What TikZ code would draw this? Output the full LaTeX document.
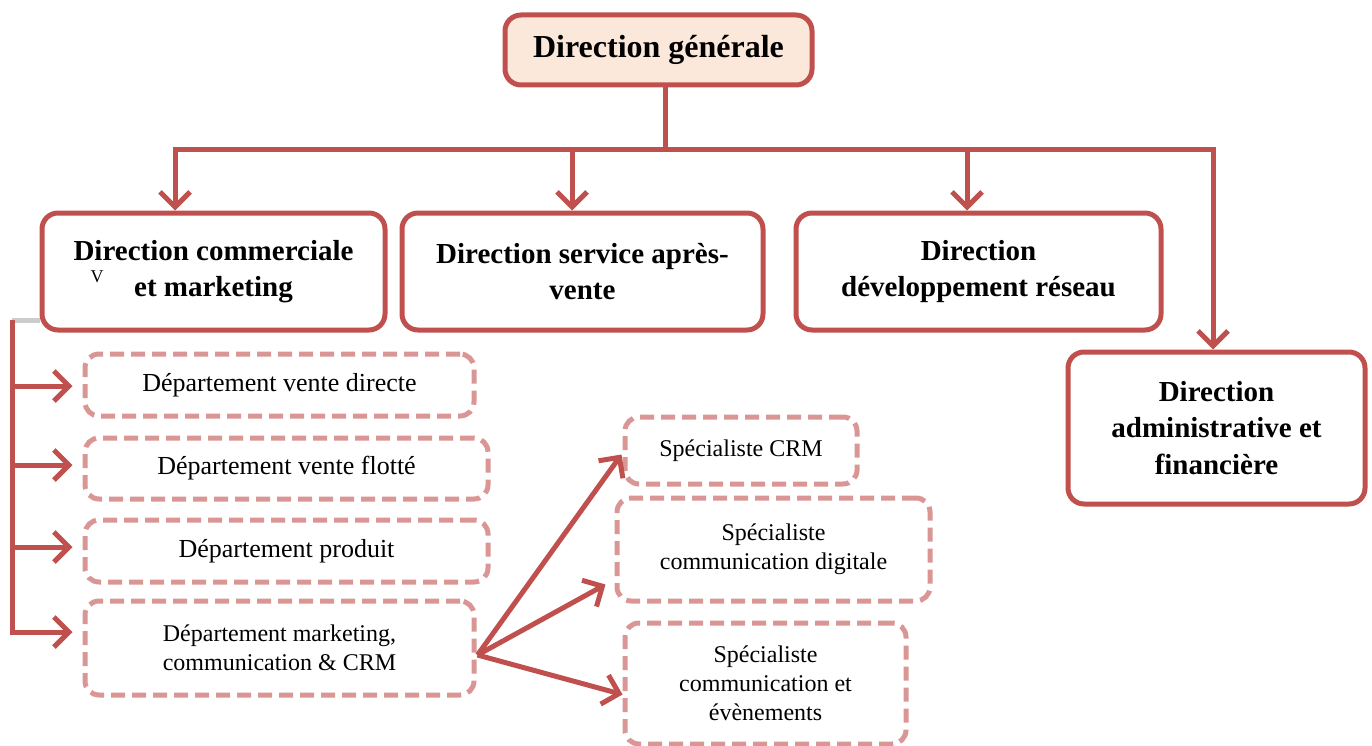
\documentclass[tikz,border=0pt]{standalone}
\usepackage{fontspec}
\setmainfont{Liberation Serif}
\usetikzlibrary{arrows.meta,calc}
\definecolor{orgred}{HTML}{C0504D}
\definecolor{dashred}{HTML}{D99694}
\definecolor{peach}{HTML}{FCE8DA}
\begin{document}
\begin{tikzpicture}[x=1pt,y=-1pt,
  solidbox/.style={draw=orgred, line width=5pt, rounded corners=16pt, fill=white,
    align=center, inner sep=0pt, font=\bfseries\fontsize{29}{36.5}\selectfont},
  dashbox/.style={draw=dashred, line width=5pt, dash pattern=on 14pt off 7pt,
    rounded corners=14pt, fill=white, align=center, inner sep=0pt},
  bigtext/.style={font=\fontsize{26}{30}\selectfont},
  smalltext/.style={font=\fontsize{24}{29}\selectfont},
  link/.style={draw=orgred, line width=5pt},
  tip/.style={-{Straight Barb[length=15pt,width=30pt]}}
]
\useasboundingbox (0,0) rectangle (1372,746);

% top level
\node[solidbox, fill=peach, minimum width=307pt, minimum height=70pt,
      font=\bfseries\fontsize{32}{36}\selectfont] (DG) at (658.5,50) {Direction générale};

% directions
\node[solidbox, minimum width=343pt, minimum height=117pt] (DCM) at (213.5,271.5)
  {Direction commerciale\\et marketing};
\node[font=\fontsize{18}{18}\selectfont, inner sep=0pt] (vmark) at (97,277) {V};
\node[solidbox, minimum width=361pt, minimum height=117pt] (DSAV) at (582.5,271.5)
  {Direction service après-\\vente};
\node[solidbox, minimum width=365pt, minimum height=117pt] (DDR) at (978.5,271.5)
  {Direction\\développement réseau};
\node[solidbox, minimum width=297pt, minimum height=152pt] (DAF) at (1216.5,428)
  {Direction\\administrative et\\financière};

% departments
\node[dashbox, bigtext, minimum width=389pt, minimum height=62pt] (Dvd) at (279.5,385)
  {Département vente directe};
\node[dashbox, bigtext, minimum width=403pt, minimum height=61pt] (Dvf) at (286.5,468.5)
  {Département vente flotté};
\node[dashbox, bigtext, minimum width=403pt, minimum height=62pt] (Dp) at (286.5,551)
  {Département produit};
\node[dashbox, smalltext, minimum width=389pt, minimum height=94pt] (Dmc) at (279.5,648)
  {Département marketing,\\communication \& CRM};

% specialists
\node[dashbox, smalltext, minimum width=232pt, minimum height=67pt] (SCRM) at (741,450.5)
  {Spécialiste CRM};
\node[dashbox, smalltext, minimum width=313pt, minimum height=103pt] (SCD) at (773.5,549.5)
  {Spécialiste\\communication digitale};
\node[dashbox, smalltext, minimum width=281pt, minimum height=121pt] (SCE) at (765.5,683.5)
  {Spécialiste\\communication et\\évènements};

% connectors from the general direction
\coordinate (hub) at (665,150);
\coordinate (busL) at (175,150);
\coordinate (busR) at (1213,150);
\coordinate (busM1) at (572,150);
\coordinate (busM2) at (967,150);
\draw[link] (hub |- DG.south) -- (hub);
\draw[link, {Straight Barb[length=15pt,width=30pt]}-{Straight Barb[length=15pt,width=30pt]}]
  (busL |- DCM.north) -- (busL) -- (busR) -- (busR |- DAF.north);
\draw[link, tip] (busM1) -- (busM1 |- DSAV.north);
\draw[link, tip] (busM2) -- (busM2 |- DDR.north);

% commercial direction to its departments
\coordinate (spine) at (12,320);
\coordinate (a1) at ($(Dvd.west)+(-10,1)$);
\coordinate (a2) at ($(Dvf.west)+(-10,-3.5)$);
\coordinate (a3) at ($(Dp.west)+(-10,-4)$);
\coordinate (a4) at ($(Dmc.west)+(-10,-16)$);
\draw[gray!40, line width=5pt] (spine) -- (spine -| DCM.west);
\draw[link, tip] (spine) |- (a4);
\draw[link, tip] (spine |- a1) -- (a1);
\draw[link, tip] (spine |- a2) -- (a2);
\draw[link, tip] (spine |- a3) -- (a3);

% marketing department to its specialists
\coordinate (fan) at ($(Dmc.east)+(1,7)$);
\draw[link, tip] (fan) -- ($(SCRM.west)+(-1,4)$);
\draw[link, tip] (fan) -- ($(SCD.south west)+(-9,-19)$);
\draw[link, tip] (fan) -- ($(SCE.west)+(0,11)$);
\end{tikzpicture}
\end{document}
